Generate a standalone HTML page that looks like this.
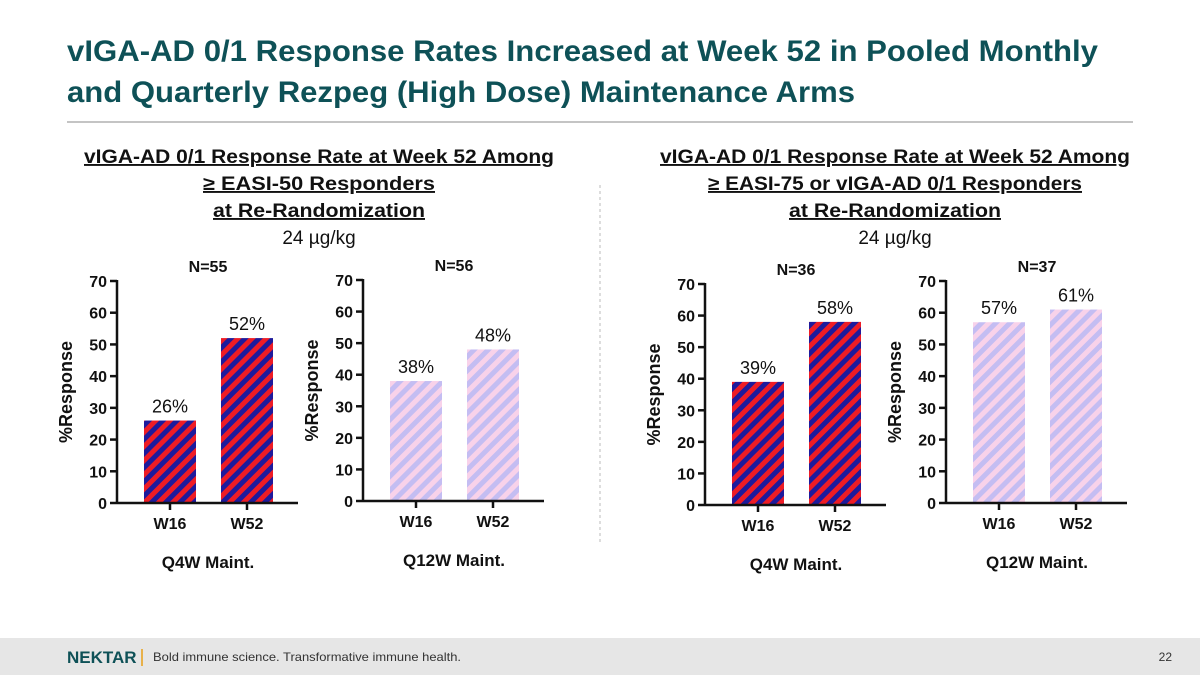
<!DOCTYPE html>
<html><head><meta charset="utf-8"><style>
body{margin:0;width:1200px;height:675px;overflow:hidden;background:#fff;font-family:"Liberation Sans",sans-serif}
</style></head><body>
<svg width="1200" height="675" viewBox="0 0 1200 675" xmlns="http://www.w3.org/2000/svg">
<defs>
<pattern id="dark" patternUnits="userSpaceOnUse" width="10" height="10" patternTransform="rotate(45)">
<rect width="10" height="10" fill="#ee1c25"/><rect width="5" height="10" fill="#1e1a9c"/></pattern>
<pattern id="light" patternUnits="userSpaceOnUse" width="10" height="10" patternTransform="rotate(45)">
<rect width="10" height="10" fill="#f8d2ea"/><rect width="5" height="10" fill="#c4bdf2"/></pattern>
</defs>
<g fill="#0e5157" font-weight="bold" font-size="30">
<text x="67" y="61" textLength="1031" lengthAdjust="spacingAndGlyphs">vIGA-AD 0/1 Response Rates Increased at Week 52 in Pooled Monthly</text>
<text x="67" y="102" textLength="788" lengthAdjust="spacingAndGlyphs">and Quarterly Rezpeg (High Dose) Maintenance Arms</text>
</g>
<line x1="67" y1="122" x2="1133" y2="122" stroke="#888" stroke-width="1"/>
<line x1="600" y1="185" x2="600" y2="545" stroke="#bbb" stroke-dasharray="3,3"/>
<g font-size="19" text-anchor="middle" fill="#111">
<text x="319" y="163" font-weight="bold" text-decoration="underline" textLength="470" lengthAdjust="spacingAndGlyphs">vIGA-AD 0/1 Response Rate at Week 52 Among</text>
<text x="319" y="190" font-weight="bold" text-decoration="underline" textLength="232" lengthAdjust="spacingAndGlyphs">≥ EASI-50 Responders</text>
<text x="319" y="217" font-weight="bold" text-decoration="underline" textLength="212" lengthAdjust="spacingAndGlyphs">at Re-Randomization</text>
<text x="319" y="244">24 µg/kg</text>
</g>
<g font-size="19" text-anchor="middle" fill="#111">
<text x="895" y="163" font-weight="bold" text-decoration="underline" textLength="470" lengthAdjust="spacingAndGlyphs">vIGA-AD 0/1 Response Rate at Week 52 Among</text>
<text x="895" y="190" font-weight="bold" text-decoration="underline" textLength="374" lengthAdjust="spacingAndGlyphs">≥ EASI-75 or vIGA-AD 0/1 Responders</text>
<text x="895" y="217" font-weight="bold" text-decoration="underline" textLength="212" lengthAdjust="spacingAndGlyphs">at Re-Randomization</text>
<text x="895" y="244">24 µg/kg</text>
</g>
<g id="charts"></g>
<rect x="0" y="638" width="1200" height="37" fill="#e6e6e6"/>
<text x="67" y="663" font-size="17" font-weight="bold" fill="#0e5157">NEKTAR</text>
<line x1="142" y1="649" x2="142" y2="666" stroke="#e8b14a" stroke-width="2"/>
<text x="153" y="661" font-size="12" fill="#333" textLength="308" lengthAdjust="spacingAndGlyphs">Bold immune science. Transformative immune health.</text>
<text x="1172" y="661" font-size="12" fill="#333" text-anchor="end">22</text>
</svg>
<script>
const categories = ["W16", "W52"];
const panelNs = ["N=55", "N=56", "N=36", "N=37"];
const groupLabels = ["Q4W Maint.", "Q12W Maint.", "Q4W Maint.", "Q12W Maint."];
const panelValues = [[26, 52], [38, 48], [39, 58], [57, 61]];
const yTicks = [0, 10, 20, 30, 40, 50, 60, 70];
const layout = [
 {ax:117, y0:503, y70:281, fill:"dark"},
 {ax:363, y0:501, y70:280, fill:"light"},
 {ax:705, y0:505, y70:284, fill:"dark"},
 {ax:946, y0:503, y70:281, fill:"light"}
];
const NS="http://www.w3.org/2000/svg";
const root=document.getElementById('charts');
function mk(tag,attrs,parent,text){const e=document.createElementNS(NS,tag);for(const k in attrs)e.setAttribute(k,attrs[k]);if(text!==undefined)e.textContent=text;parent.appendChild(e);return e;}
panelValues.forEach((vals,p)=>{
 const L=layout[p];
 const y=v=>L.y0-(v/70)*(L.y0-L.y70);
 const xc=i=>L.ax+53+i*77;
 const g=mk('g',{},root);
 
 
 vals.forEach((v,i)=>{
  const r=mk('rect',{x:xc(i)-26,y:y(v),width:52,height:L.y0-y(v),fill:'url(#'+L.fill+')'},g);
  
  
  const t=mk('text',{x:xc(i),y:y(v)-8,'font-size':18,'text-anchor':'middle',fill:'#111'},g,v+'%');
  
  
  mk('line',{x1:xc(i),y1:L.y0,x2:xc(i),y2:L.y0+7,stroke:'#111','stroke-width':2.5},g);
  const c=mk('text',{x:xc(i),y:L.y0+26,'font-size':16,'font-weight':'bold','text-anchor':'middle',fill:'#111'},g,categories[i]);
  
  
 });
 mk('line',{x1:L.ax,y1:L.y70-1,x2:L.ax,y2:L.y0,stroke:'#111','stroke-width':2.5},g);
 mk('line',{x1:L.ax,y1:L.y0,x2:L.ax+181,y2:L.y0,stroke:'#111','stroke-width':2.5},g);
 yTicks.forEach(t=>{
  mk('line',{x1:L.ax-7,y1:y(t),x2:L.ax,y2:y(t),stroke:'#111','stroke-width':2.5},g);
  const tl=mk('text',{x:L.ax-10,y:y(t)+6,'font-size':16,'font-weight':'bold','text-anchor':'end',fill:'#111'},g,t);
  
  
 });
 const yl=mk('text',{x:0,y:0,'font-size':18,'font-weight':'bold','text-anchor':'middle',fill:'#111',transform:`translate(${L.ax-45},${(L.y0+L.y70)/2}) rotate(-90)`},g,'%Response');
 
 
 const n=mk('text',{x:L.ax+91,y:L.y70-9,'font-size':16,'font-weight':'bold','text-anchor':'middle',fill:'#111'},g,panelNs[p]);
 
 
 const gl=mk('text',{x:L.ax+91,y:L.y0+65,'font-size':17,'font-weight':'bold','text-anchor':'middle',fill:'#111'},g,groupLabels[p]);
 
 
});
</script>
</body></html>
